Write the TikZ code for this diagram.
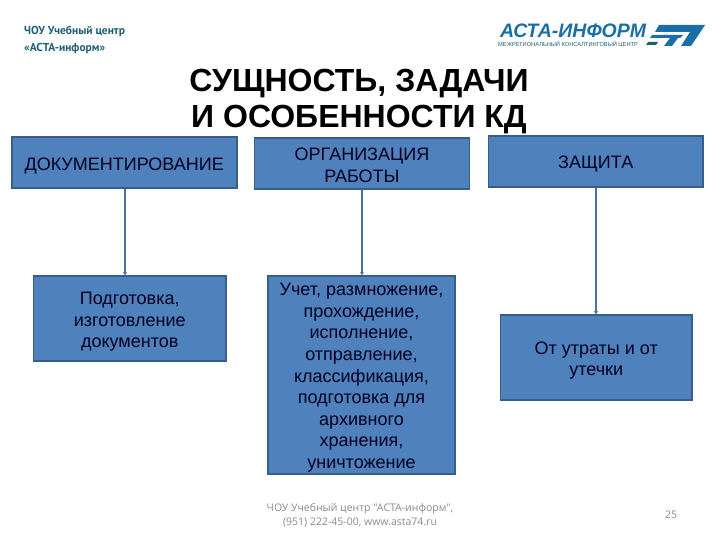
\documentclass[tikz,border=0pt]{standalone}
\usepackage{fontspec}
\setmainfont{Liberation Sans}
\newfontfamily\condfont{PT Sans}
\newfontfamily\footfont{Open Sans}
\usetikzlibrary{arrows.meta}
\definecolor{boxfill}{HTML}{4F81BD}
\definecolor{boxline}{HTML}{385D8A}
\definecolor{linkline}{HTML}{4A719F}
\definecolor{logoblue}{HTML}{1B6FA8}
\definecolor{logoteal}{HTML}{1F5F73}
\definecolor{foot}{HTML}{8B8B8B}
\newcommand{\toppad}[1]{\rule{0pt}{#1}}
\tikzset{
  bluebox/.style={draw=boxline,line width=1.8pt,fill=boxfill,align=center,inner sep=0pt,text=black!88!blue,font=\fontsize{18}{21.6}\selectfont},
  link/.style={draw=linkline,line width=1.4pt,-{Stealth[length=3pt,width=4.5pt]}},
  titletext/.style={font=\fontsize{32}{36}\selectfont\bfseries,align=center,text=black},
  foottext/.style={font=\footfont\fontsize{10.5}{13.5}\selectfont,text=foot,align=center}
}
\begin{document}
\begin{tikzpicture}[x=1pt,y=-1pt]
\useasboundingbox (0,0) rectangle (720,540);
\fill[white] (0,0) rectangle (720,540);
\node[bluebox,minimum width=225pt,minimum height=51pt] (doc) at (124.2,162.5) {\toppad{19pt}ДОКУМЕНТИРОВАНИЕ};
\node[bluebox,minimum width=215pt,minimum height=51pt] (org) at (362,163.5) {\toppad{16pt}ОРГАНИЗАЦИЯ\\РАБОТЫ};
\node[bluebox,minimum width=214.5pt,minimum height=51pt] (zas) at (595.7,161.5) {\toppad{17pt}ЗАЩИТА};
\node[bluebox,minimum width=192.5pt,minimum height=85pt] (pod) at (129.7,318.5) {\toppad{19pt}Подготовка,\\изготовление\\документов};
\node[bluebox,minimum width=187pt,minimum height=198pt] (uch) at (361.5,375) {\toppad{18pt}Учет, размножение,\\прохождение,\\исполнение,\\отправление,\\классификация,\\подготовка для\\архивного\\хранения,\\уничтожение};
\node[bluebox,minimum width=191.5pt,minimum height=85pt] (otu) at (596.2,357.5) {\toppad{19pt}От утраты и от\\утечки};
\draw[link] (doc.south) ++(0.8,0) coordinate (a1) (a1) -- (a1 |- pod.north);
\draw[link] (org.south) -- (org.south |- uch.north);
\draw[link] (zas.south) ++(0.3,0) coordinate (a3) (a3) -- (a3 |- otu.north);
\node[titletext] (title) at (359,102) {СУЩНОСТЬ, ЗАДАЧИ\\И ОСОБЕННОСТИ КД};
\node[foottext] (ft) at (360,515.5) {ЧОУ Учебный центр "АСТА-информ",\\(951) 222-45-00, www.asta74.ru};
\node[foottext] (pg) at (671,515) {25};
\node[anchor=west,inner sep=0pt,align=left,text=logoteal,font=\condfont\bfseries\fontsize{11.5}{17}\selectfont] (lg1) at (24,40) {ЧОУ Учебный центр\\«АСТА-информ»};
\node[anchor=west,inner sep=0pt,text=logoblue,font=\bfseries\itshape\fontsize{19.5}{19.5}\selectfont] (lg2) at (500,31) {АСТА-ИНФОРМ};
\node[anchor=west,inner sep=0pt,text=logoteal,font=\fontsize{5.7}{6}\selectfont] (lg3) at (498,44.5) {МЕЖРЕГИОНАЛЬНЫЙ КОНСАЛТИНГОВЫЙ ЦЕНТР};
\fill[logoblue] (659,25) -- (705,25) -- (691,46) -- (681,46) -- (690,32) -- (655,32) -- cycle;
\fill[logoblue] (652,35) -- (683,35) -- (680,38) -- (650,38) -- cycle;
\fill[logoblue] (670,38) -- (678,38) -- (672,46) -- (664,46) -- cycle;
\fill[logoteal] (648,42) -- (658,42) -- (656,45) -- (646,45) -- cycle;
\end{tikzpicture}
\end{document}
